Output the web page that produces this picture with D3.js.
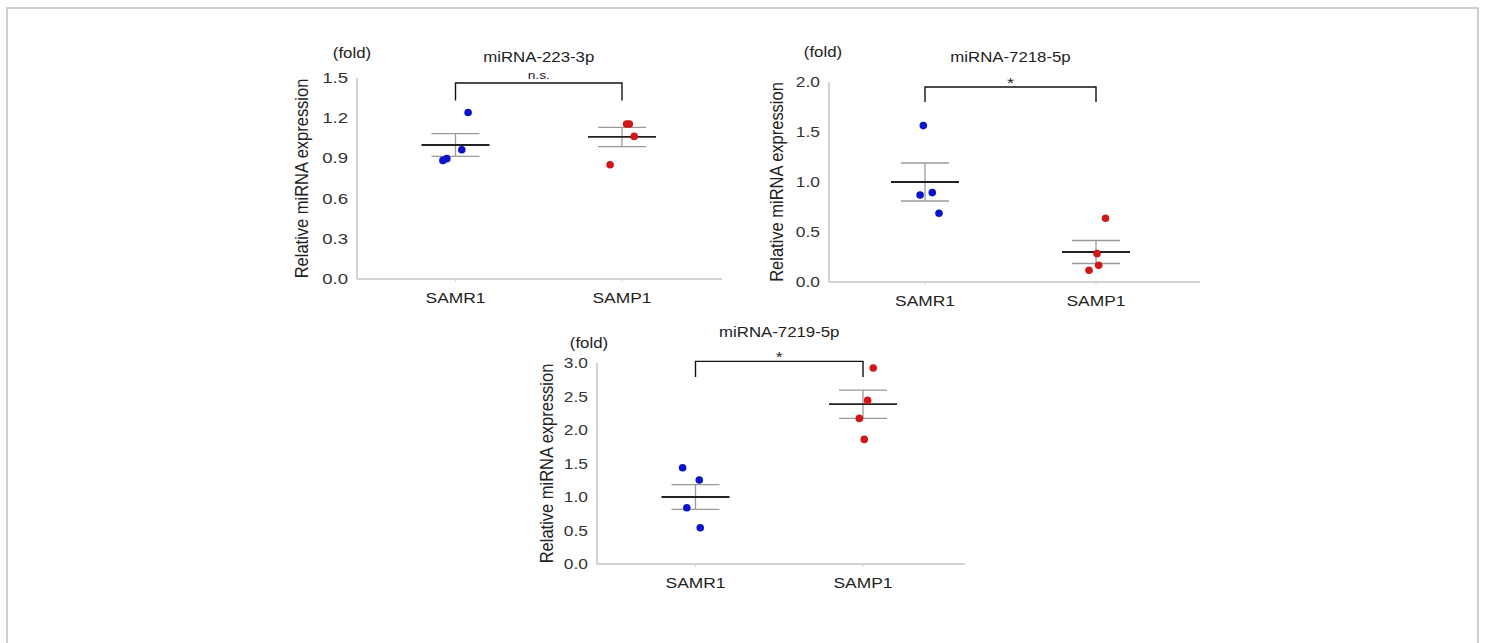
<!DOCTYPE html>
<html>
<head>
<meta charset="utf-8">
<script src="https://cdn.jsdelivr.net/npm/d3@7"></script>
<style>
  body { margin: 0; background: #fff; }
  text { font-family: "Liberation Sans", Arial, sans-serif; fill: #222; }
</style>
</head>
<body>
<div id="chart"></div>
<script>
// groups and panel titles
var groups = ["SAMR1", "SAMP1"];
var titles = ["miRNA-223-3p", "miRNA-7218-5p", "miRNA-7219-5p"];
var yMax = [1.5, 2.0, 3.0];
var yTicks = [
    [0, 0.3, 0.6, 0.9, 1.2, 1.5],
    [0, 0.5, 1.0, 1.5, 2.0],
    [0, 0.5, 1.0, 1.5, 2.0, 2.5, 3.0]
];

// individual points
var samr1Values = [
    [1.243, 0.965, 0.898, 0.885],
    [1.564, 0.894, 0.870, 0.687],
    [1.437, 1.254, 0.840, 0.542]
];
var samp1Values = [
    [1.157, 1.157, 1.064, 0.853],
    [0.637, 0.284, 0.167, 0.117],
    [2.925, 2.442, 2.173, 1.860]
];
// horizontal scatter of each point (-1..1 of the jitter width)
var samr1Jitter = [
    [0.9, 0.45, -0.62, -0.9],
    [-0.12, 0.52, -0.35, 1.0],
    [-0.92, 0.27, -0.62, 0.34]
];
var samp1Jitter = [
    [0.33, 0.52, 0.87, -0.85],
    [0.68, 0.07, 0.19, -0.5],
    [0.73, 0.33, -0.26, 0.09]
];

// mean +/- SEM
var samr1Mean = [1.0, 1.0, 1.0];
var samr1Sem = [0.085, 0.19, 0.185];
var samp1Mean = [1.06, 0.30, 2.385];
var samp1Sem = [0.072, 0.115, 0.21];

// significance brackets
var sigLabels = ["n.s.", "*", "*"];
var bracketTop = [1.463, 1.95, 3.024];
var bracketFoot = [1.333, 1.80, 2.79];

var colors = {SAMR1: "#0a14c8", SAMP1: "#d01818"};

var width = 1485, height = 643;
var svg = d3.select("#chart").append("svg")
    .attr("width", width)
    .attr("height", height);

// outer frame
svg.append("rect")
    .attr("x", 7).attr("y", 8)
    .attr("width", 1471).attr("height", 700)
    .attr("fill", "none")
    .attr("stroke", "#cfcfcf")
    .attr("stroke-width", 2);

// placement of the three panels
var layout = [
    {left: 357, top: 78, bottom: 279, right: 722, c1: 455.5, c2: 622, foldX: 352, foldY: 58, titleY: 62, labelX: 302, tickSize: 15.5},
    {left: 829, top: 82, bottom: 282, right: 1200, c1: 925, c2: 1096, foldX: 823, foldY: 57, titleY: 62, labelX: 777, tickSize: 14.5},
    {left: 597, top: 363, bottom: 564, right: 965, c1: 695.5, c2: 863, foldX: 589, foldY: 348, titleY: 337, labelX: 547, tickSize: 14.5}
];

function stretchedText(g, str, x, y, size, anchor) {
    return g.append("text")
        .attr("transform", "translate(" + x + "," + y + ") scale(1.2,1)")
        .attr("text-anchor", anchor || "middle")
        .style("font-size", size + "px")
        .text(str);
}

titles.forEach(function(title, i){
    var L = layout[i];
    var g = svg.append("g");

    var y = d3.scaleLinear().domain([0, yMax[i]]).range([L.bottom, L.top]);
    var x = d3.scalePoint().domain(groups).range([L.c1, L.c2]);
    var jit = d3.scaleLinear().domain([-1, 1]).range([-14, 14]);

    // y axis
    g.append("line")
        .attr("x1", L.left).attr("x2", L.left)
        .attr("y1", y(0)).attr("y2", y(yMax[i]))
        .attr("stroke", "#c4c4c4").attr("stroke-width", 1.5);
    yTicks[i].forEach(function(t){
        stretchedText(g, t.toFixed(1), L.left - 9, y(t) + 5, L.tickSize, "end")
            .style("fill", "#333");
    });

    // x axis
    g.append("line")
        .attr("x1", L.left).attr("x2", L.right)
        .attr("y1", y(0)).attr("y2", y(0))
        .attr("stroke", "#c4c4c4").attr("stroke-width", 1.5);
    groups.forEach(function(gr){
        g.append("line")
            .attr("x1", x(gr)).attr("x2", x(gr))
            .attr("y1", y(0)).attr("y2", y(0) + 3)
            .attr("stroke", "#d8d8d8");
        stretchedText(g, gr, x(gr), y(0) + 24, 14.5);
    });

    // titles
    stretchedText(g, title, (L.c1 + L.c2) / 2, L.titleY, 14);
    stretchedText(g, "(fold)", L.foldX, L.foldY, 14);

    g.append("text")
        .attr("transform", "translate(" + L.labelX + "," + ((y(0) + y(yMax[i])) / 2) + ") rotate(-90) scale(1,1.1)")
        .attr("text-anchor", "middle")
        .attr("dy", "0.35em")
        .style("font-size", "16.5px")
        .text("Relative miRNA expression");

    // significance bracket
    var bt = y(bracketTop[i]), bf = y(bracketFoot[i]);
    g.append("path")
        .attr("d", "M" + x("SAMR1") + "," + bf + "V" + bt + "H" + x("SAMP1") + "V" + bf)
        .attr("fill", "none")
        .attr("stroke", "#111")
        .attr("stroke-width", 1.4);
    if (sigLabels[i] == "*") {
        stretchedText(g, "*", (x("SAMR1") + x("SAMP1")) / 2, bt + 1, 15);
    } else {
        stretchedText(g, sigLabels[i], (x("SAMR1") + x("SAMP1")) / 2, bt - 4, 11.5);
    }

    // mean +/- SEM
    var stats = [
        {group: "SAMR1", mean: samr1Mean[i], sem: samr1Sem[i]},
        {group: "SAMP1", mean: samp1Mean[i], sem: samp1Sem[i]}
    ];
    stats.forEach(function(s){
        var cx = x(s.group);
        g.append("line")
            .attr("x1", cx).attr("x2", cx)
            .attr("y1", y(s.mean + s.sem)).attr("y2", y(s.mean - s.sem))
            .attr("stroke", "#9a9a9a").attr("stroke-width", 1.3);
        [s.mean + s.sem, s.mean - s.sem].forEach(function(v){
            g.append("line")
                .attr("x1", cx - 24).attr("x2", cx + 24)
                .attr("y1", y(v)).attr("y2", y(v))
                .attr("stroke", "#9a9a9a").attr("stroke-width", 1.3);
        });
        g.append("line")
            .attr("x1", cx - 34).attr("x2", cx + 34)
            .attr("y1", y(s.mean)).attr("y2", y(s.mean))
            .attr("stroke", "#222").attr("stroke-width", 1.8);
    });

    // points
    var pts = [];
    samr1Values[i].forEach(function(v, k){ pts.push({group: "SAMR1", v: v, j: samr1Jitter[i][k]}); });
    samp1Values[i].forEach(function(v, k){ pts.push({group: "SAMP1", v: v, j: samp1Jitter[i][k]}); });
    g.selectAll(".pt").data(pts).enter()
        .append("circle")
        .attr("class", "pt")
        .attr("cx", function(d){ return x(d.group) + jit(d.j); })
        .attr("cy", function(d){ return y(d.v); })
        .attr("r", 3.8)
        .attr("fill", function(d){ return colors[d.group]; });
});
</script>
</body>
</html>
